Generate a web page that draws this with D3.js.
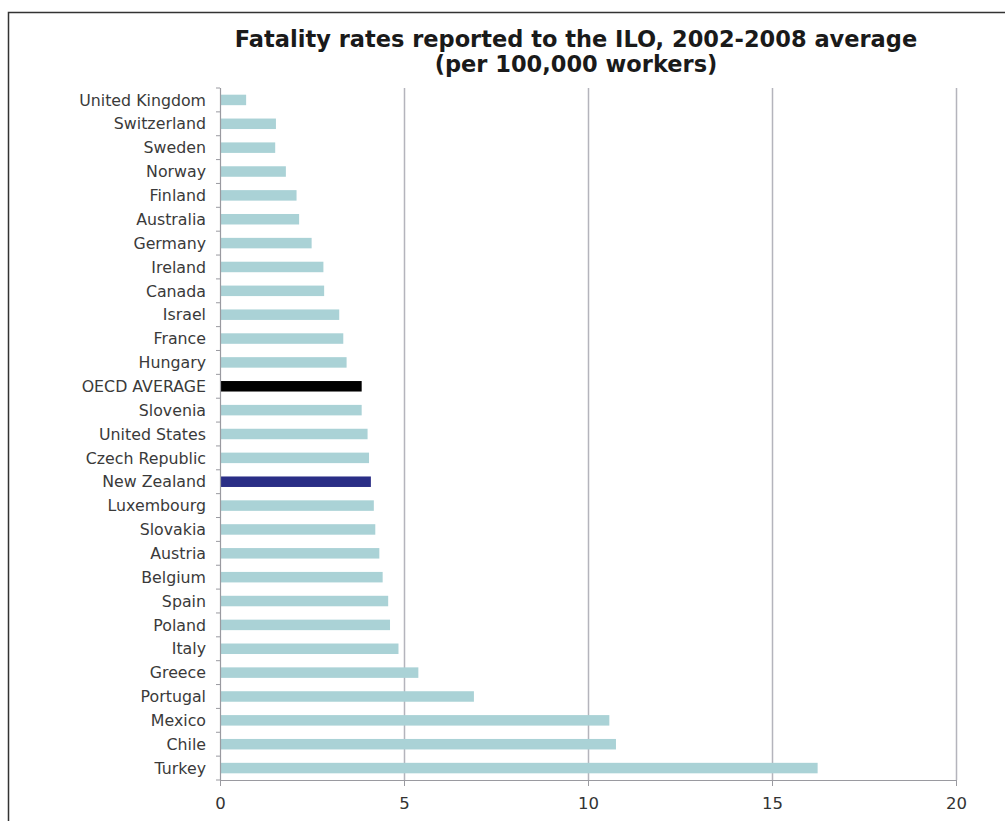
<!DOCTYPE html>
<html>
<head>
<meta charset="utf-8">
<script src="https://cdn.jsdelivr.net/npm/d3@7"></script>
<style>
  html, body { margin: 0; padding: 0; background: #fff; }
  svg { display: block; }
  text { font-family: "DejaVu Sans", Verdana, sans-serif; }
</style>
</head>
<body>
<svg id="chart" width="1005" height="821"></svg>
<script>
// Fatality rates per 100,000 workers, 2002-2008 average (ILO)
const countries = [
  "United Kingdom", "Switzerland", "Sweden", "Norway", "Finland", "Australia",
  "Germany", "Ireland", "Canada", "Israel", "France", "Hungary",
  "OECD AVERAGE", "Slovenia", "United States", "Czech Republic", "New Zealand",
  "Luxembourg", "Slovakia", "Austria", "Belgium", "Spain", "Poland", "Italy",
  "Greece", "Portugal", "Mexico", "Chile", "Turkey"
];
const rates = [
  0.71, 1.52, 1.50, 1.79, 2.08, 2.15,
  2.49, 2.81, 2.83, 3.24, 3.35, 3.44,
  3.85, 3.85, 4.01, 4.05, 4.10,
  4.18, 4.22, 4.33, 4.42, 4.57, 4.62, 4.85,
  5.39, 6.90, 10.58, 10.76, 16.24
];
const xTicks = [0, 5, 10, 15, 20];
const titleLines = ["Fatality rates reported to the ILO, 2002-2008 average", "(per 100,000 workers)"];

const barColor = "#aad2d6";
const highlight = { "OECD AVERAGE": "#000000", "New Zealand": "#2a2e86" };

const svg = d3.select("#chart");
const margin = { left: 220, right: 49, top: 88, bottom: 41 };
const W = 1005, H = 821;

// frame
svg.append("path")
  .attr("d", `M8.5,${H} L8.5,12.5 L${W},12.5`)
  .attr("fill", "none").attr("stroke", "#333").attr("stroke-width", 1.5);

const x = d3.scaleLinear().domain([0, 20]).range([margin.left, W - margin.right]);
const y = d3.scaleBand().domain(countries).range([margin.top, H - margin.bottom]).paddingInner(0.56).paddingOuter(0.28);

// title
svg.append("text")
  .attr("text-anchor", "middle")
  .attr("font-weight", "bold").attr("font-size", 22.5).attr("fill", "#1a1a1a")
  .selectAll("tspan").data(titleLines).join("tspan")
  .attr("x", 576).attr("y", (d, i) => 47 + i * 24.5).text(d => d);

// vertical gridlines
svg.append("g").selectAll("line").data(xTicks.filter(t => t > 0)).join("line")
  .attr("x1", d => x(d) + 0.5).attr("x2", d => x(d) + 0.5)
  .attr("y1", margin.top).attr("y2", H - margin.bottom)
  .attr("stroke", "#b4b4bc").attr("stroke-width", 1.5);

// bars
svg.append("g").selectAll("rect").data(countries).join("rect")
  .attr("x", x(0) + 1)
  .attr("y", d => y(d))
  .attr("width", (d, i) => x(rates[i]) - x(0) - 1)
  .attr("height", y.bandwidth())
  .attr("fill", d => highlight[d] || barColor);

// y axis with ticks between categories
const yAxisG = svg.append("g");
yAxisG.append("line")
  .attr("x1", x(0) + 0.5).attr("x2", x(0) + 0.5)
  .attr("y1", margin.top).attr("y2", H - margin.bottom)
  .attr("stroke", "#9a9aa0").attr("stroke-width", 1.2);
const step = y.step();
yAxisG.selectAll("line.tk").data(d3.range(countries.length + 1)).join("line")
  .attr("class", "tk")
  .attr("x1", x(0) - 4).attr("x2", x(0))
  .attr("y1", i => margin.top + i * step).attr("y2", i => margin.top + i * step)
  .attr("stroke", "#9a9aa0");
yAxisG.selectAll("text").data(countries).join("text")
  .attr("x", 206).attr("y", d => y(d) + y.bandwidth() / 2)
  .attr("dy", "0.36em").attr("text-anchor", "end")
  .attr("font-size", 15.8).attr("fill", "#3a3a3a")
  .text(d => d);

// x axis
const xAxis = d3.axisBottom(x).tickValues(xTicks).tickSize(6).tickSizeOuter(0).tickPadding(11).tickFormat(d3.format("d"));
const xg = svg.append("g").attr("transform", `translate(0,${H - margin.bottom})`).call(xAxis);
xg.select(".domain").attr("stroke", "#9a9aa0").attr("stroke-width", 1.2);
xg.selectAll(".tick line").attr("stroke", "#9a9aa0");
xg.selectAll(".tick text").attr("font-size", 16.5).attr("fill", "#333")
  .attr("font-family", "DejaVu Sans, Verdana, sans-serif");
</script>
</body>
</html>
